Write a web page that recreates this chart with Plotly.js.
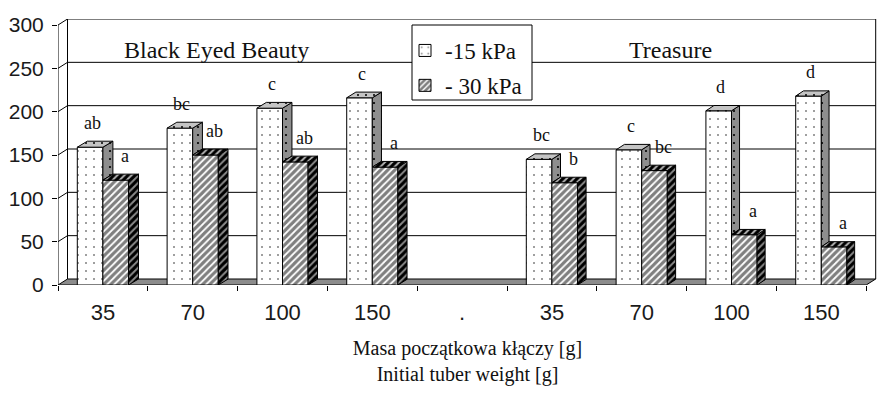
<!DOCTYPE html>
<html>
<head>
<meta charset="utf-8">
<script src="https://cdn.plot.ly/plotly-3.0.1.min.js"></script>
<style>html,body{margin:0;padding:0;background:#fff;}#chart{width:881px;height:397px;}</style>
</head>
<body>
<div id="chart"></div>
<script>
// ---------------- data ----------------
const categories = ['35', '70', '100', '150', '.', '35', '70', '100', '150'];
const kPa15 = [159, 181, 204, 216, null, 145, 156, 201, 218];
const kPa30 = [121, 150, 142, 136, null, 118, 132, 58, 44];
const letters15 = ['ab', 'bc', 'c', 'c', '', 'bc', 'c', 'd', 'd'];
const letters30 = ['a', 'ab', 'ab', 'a', '', 'b', 'bc', 'a', 'a'];
const yTicks = [0, 50, 100, 150, 200, 250, 300];
const cultivars = ['Black Eyed Beauty', 'Treasure'];
const seriesNames = ['-15 kPa', '- 30 kPa'];
const xTitle = 'Masa początkowa kłączy [g]<br>Initial tuber weight [g]';

// ---------------- layout geometry ----------------
const W = 881, H = 397;
const L = 58, R = 877, T = 19, B = 285;
const PXX = 89.8;            // px per category
const PXY = 260 / 300;       // px per unit
const xRange = [-0.5, -0.5 + (R - L) / PXX];
const yRange = [0, (B - T) / PXY];
const xEnd = categories.length - 0.5;
const wallDX = 9.5 / PXX, wallDY = 6 / PXY;
const barW = 0.285;
const SERIF = 'Liberation Serif, Times New Roman, serif';
const SANS = 'Liberation Sans, Arial, sans-serif';
const px2fx = p => (p - L) / (R - L);
const px2fy = p => (B - p) / (B - T);

const xIdx = categories.map((c, i) => i);

// ---------------- traces ----------------
const dotPat = {shape: '.', bgcolor: 'white', fgcolor: 'black', size: 8, solidity: 0.05, fillmode: 'overlay'};
const hatchPat = {shape: '/', bgcolor: 'white', fgcolor: 'black', size: 5, solidity: 0.65, fillmode: 'overlay'};
const traces = [];
traces.push({
  type: 'bar', name: seriesNames[0], x: xIdx, y: kPa15,
  offset: -barW, width: barW, legendgroup: 'a',
  marker: {color: 'white', line: {color: 'black', width: 1}, pattern: dotPat},
  hoverinfo: 'skip'
});
traces.push({
  type: 'bar', name: seriesNames[1], x: xIdx, y: kPa30,
  offset: 0, width: barW, legendgroup: 'b',
  marker: {color: 'white', line: {color: 'black', width: 1}, pattern: hatchPat},
  hoverinfo: 'skip'
});

// 3-D faces (computed from the data)
const faces = {top15: {x: [], y: []}, side15: {x: [], y: []}, top30: {x: [], y: []}, side30: {x: [], y: []}};
function addPoly(f, pts) {
  pts.forEach(p => { f.x.push(p[0]); f.y.push(p[1]); });
  f.x.push(pts[0][0]); f.y.push(pts[0][1]);
  f.x.push(null); f.y.push(null);
}
xIdx.forEach(i => {
  const a = kPa15[i], b = kPa30[i];
  if (a == null || b == null) return;
  const dx = (10 - 0.28 * i) / PXX, dy = (6 - 0.1 * i) / PXY;
  const xl = i - barW, xm = i, xr = i + barW;
  addPoly(faces.top15, [[xl, a], [xm, a], [xm + dx, a + dy], [xl + dx, a + dy]]);
  if (a > b) addPoly(faces.side15, [[xm, a], [xm + dx, a + dy], [xm + dx, b + dy], [xm, b]]);
  addPoly(faces.top30, [[xm, b], [xr, b], [xr + dx, b + dy], [xm + dx, b + dy]]);
  addPoly(faces.side30, [[xr, 0], [xr + dx, dy], [xr + dx, b + dy], [xr, b]]);
});
const faceStyle = {
  side15: {bg: '#8e8e8e', shape: '.', size: 8, sol: 0.06},
  top15: {bg: '#c4c4c4', shape: '.', size: 8, sol: 0.05},
  side30: {bg: '#8a8a8a', shape: '/', size: 5, sol: 0.6},
  top30: {bg: '#b4b4b4', shape: '/', size: 5, sol: 0.6}
};
['side15', 'top15', 'side30', 'top30'].forEach(k => {
  const s = faceStyle[k];
  traces.push({
    type: 'scatter', mode: 'lines', x: faces[k].x, y: faces[k].y,
    fill: 'toself', fillcolor: s.bg, connectgaps: false,
    fillpattern: {shape: s.shape, bgcolor: s.bg, fgcolor: 'black', size: s.size, solidity: s.sol},
    line: {color: 'black', width: 1}, showlegend: false, hoverinfo: 'skip'
  });
});

// ---------------- shapes (walls, floor, grid) ----------------
const shapes = [];
shapes.push({type: 'path', xref: 'x', yref: 'y', layer: 'below',
  path: `M${-0.5},0 L${xEnd},0 L${xEnd + wallDX},${wallDY} L${-0.5 + wallDX},${wallDY} Z`,
  fillcolor: '#8c8c8c', line: {color: 'black', width: 1}});
yTicks.forEach(v => {
  if (v === 0) return;
  shapes.push({type: 'line', xref: 'x', yref: 'y', layer: 'below',
    x0: -0.5, y0: v, x1: -0.5 + wallDX, y1: v + wallDY, line: {color: 'black', width: 1}});
  shapes.push({type: 'line', xref: 'x', yref: 'y', layer: 'below',
    x0: -0.5 + wallDX, y0: v + wallDY, x1: xEnd + wallDX, y1: v + wallDY, line: {color: 'black', width: 1}});
});
shapes.push({type: 'line', xref: 'x', yref: 'y', layer: 'below',
  x0: -0.5 + wallDX, y0: wallDY, x1: -0.5 + wallDX, y1: yTicks[yTicks.length - 1] + wallDY, line: {color: 'black', width: 1}});
shapes.push({type: 'line', xref: 'x', yref: 'y', layer: 'below',
  x0: xEnd + wallDX, y0: wallDY, x1: xEnd + wallDX, y1: yTicks[yTicks.length - 1] + wallDY, line: {color: 'black', width: 1}});
shapes.push({type: 'line', xref: 'x', yref: 'y', layer: 'below',
  x0: -0.5, y0: 0, x1: -0.5, y1: yTicks[yTicks.length - 1], line: {color: 'black', width: 1}});
shapes.push({type: 'rect', xref: 'paper', yref: 'paper', layer: 'above',
  x0: px2fx(412), x1: px2fx(532), y0: px2fy(100), y1: px2fy(25),
  fillcolor: 'white', line: {color: 'black', width: 1}});

// ---------------- annotations ----------------
const annotations = [];
xIdx.forEach(i => {
  if (kPa15[i] != null && letters15[i]) annotations.push({
    xref: 'x', yref: 'y', x: i - barW / 2, y: kPa15[i], text: letters15[i],
    showarrow: false, yanchor: 'bottom', xshift: 2, yshift: 12,
    font: {family: SERIF, size: 18, color: '#111'}});
  if (kPa30[i] != null && letters30[i]) annotations.push({
    xref: 'x', yref: 'y', x: i + barW / 2, y: kPa30[i], text: letters30[i],
    showarrow: false, yanchor: 'bottom', xshift: 9, yshift: 12,
    font: {family: SERIF, size: 18, color: '#111'}});
});
annotations.push({xref: 'paper', yref: 'paper', x: px2fx(216), y: px2fy(50), text: cultivars[0],
  showarrow: false, xanchor: 'center', yanchor: 'middle', font: {family: SERIF, size: 24, color: '#111'}});
annotations.push({xref: 'paper', yref: 'paper', x: px2fx(670), y: px2fy(50), text: cultivars[1],
  showarrow: false, xanchor: 'center', yanchor: 'middle', font: {family: SERIF, size: 24, color: '#111'}});

// ---------------- layout ----------------
const boundaries = categories.map((c, i) => i - 0.5).concat([xEnd]);
const layout = {
  width: W, height: H,
  margin: {l: L, r: W - R, t: T, b: H - B, autoexpand: false},
  paper_bgcolor: 'white', plot_bgcolor: 'white',
  barmode: 'overlay',
  showlegend: true,
  legend: {x: px2fx(405), xanchor: 'left', y: px2fy(29), yanchor: 'top',
    bgcolor: 'rgba(0,0,0,0)', borderwidth: 0, traceorder: 'grouped', tracegroupgap: 2,
    font: {family: SERIF, size: 23, color: '#111'}},
  xaxis: {
    range: xRange, tickmode: 'array', tickvals: xIdx, ticktext: categories,
    ticks: 'outside', ticklen: 0, showgrid: false, zeroline: false, showline: false,
    ticklabelstandoff: 8,
    tickfont: {family: SANS, size: 22, color: '#1a1a1a'},
    minor: {tickmode: 'array', tickvals: boundaries, ticks: 'outside', ticklen: 5, tickcolor: 'black', tickwidth: 1, showgrid: false},
    title: {text: xTitle, font: {family: SERIF, size: 20, color: '#111'}, standoff: 16},
    fixedrange: true
  },
  yaxis: {
    range: yRange, tickmode: 'array', tickvals: yTicks, ticktext: yTicks.map(String),
    ticks: 'outside', ticklen: 5, tickcolor: 'black', showgrid: false, zeroline: false, showline: false,
    ticklabelstandoff: 4,
    tickfont: {family: SANS, size: 21, color: '#1a1a1a'},
    fixedrange: true
  },
  shapes: shapes,
  annotations: annotations
};

Plotly.newPlot('chart', traces, layout, {staticPlot: true, displayModeBar: false});
</script>
</body>
</html>
